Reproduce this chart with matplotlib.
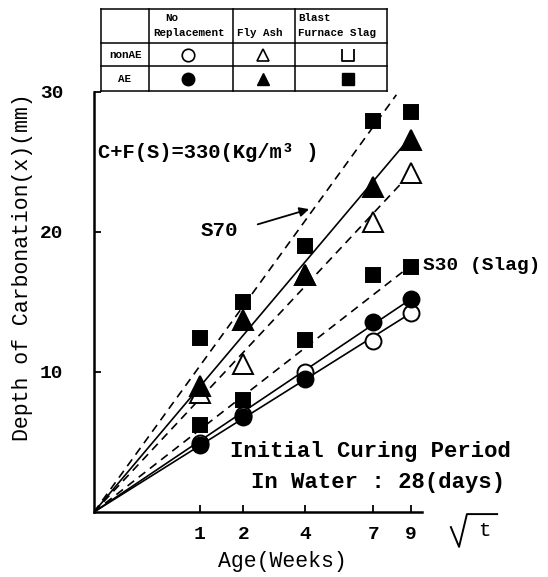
import numpy as np
import matplotlib
matplotlib.use('Agg')
import matplotlib.pyplot as plt
from matplotlib.path import Path

# age in weeks and depth of carbonation (mm)
weeks = [1, 2, 4, 7, 9]
plain_nonae = [4.9, 6.9, 10.0, 12.2, 14.2]
plain_ae = [4.8, 6.8, 9.5, 13.6, 15.2]
flyash_nonae = [8.5, 10.6, 16.9, 20.7, 24.2]
flyash_ae = [9.0, 13.7, 16.9, 23.2, 26.6]
slag30_ae = [6.2, 8.0, 12.3, 16.9, 17.5]
slag70_ae = [12.4, 15.0, 19.0, 27.9, 28.6]

# fitted lines from the origin, upper end of each
fit_end_weeks = [9, 9, 9, 9, 9, 8.2]
fit_end_depth = [14.2, 15.2, 24.2, 26.8, 17.6, 29.8]
fit_styles = ['-', '-', '--', '-', '--', '--']

xticks = [1, 2, 4, 7, 9]
yticks = [10, 20, 30]

col_names = [['No', 'Replacement'], ['Fly Ash'], ['Blast', 'Furnace Slag']]
row_names = ['nonAE', 'AE']

FONT = 'Liberation Mono'
plt.rcParams['font.family'] = [FONT, 'DejaVu Sans']
plt.rcParams['font.weight'] = 'bold'

fig = plt.figure(figsize=(5.48, 5.77), dpi=100)
ax = fig.add_axes([94 / 548, 65 / 577, 328 / 548, 420 / 577])
ax.set_xscale('function', functions=(np.sqrt, np.square))
ax.set_xlim(0, 9.65)
ax.set_ylim(0, 30)

# fitted lines
for xe, ye, ls in zip(fit_end_weeks, fit_end_depth, fit_styles):
    line, = ax.plot([0, xe], [0, ye], color='black', lw=1.2, ls=ls)
    if ls == '--':
        line.set_dashes((5, 3.5))

# markers
def pts(vals, marker, filled, ms, z):
    ax.plot(weeks, vals, ls='none', marker=marker, ms=ms,
            mfc='black' if filled else 'white', mec='black', mew=1.4, zorder=z)

pts(flyash_nonae, '^', False, 14, 3)
pts(flyash_ae, '^', True, 14, 4)
pts(plain_nonae, 'o', False, 11.5, 3)
pts(plain_ae, 'o', True, 11.5, 4)
pts(slag30_ae, 's', True, 10.5, 4)
pts(slag70_ae, 's', True, 10.5, 4)

# axes look
for s in ['top', 'right']:
    ax.spines[s].set_visible(False)
for s in ['left', 'bottom']:
    ax.spines[s].set_linewidth(1.8)
ax.set_xticks(xticks)
ax.set_xticklabels([str(t) for t in xticks])
ax.set_yticks(yticks)
ax.minorticks_off()
ax.tick_params(axis='both', direction='in', length=5, width=1.3, labelsize=14)
ax.tick_params(axis='y', pad=22)
ax.tick_params(axis='x', pad=10)

ax.set_ylabel('Depth of Carbonation(x)(mm)', fontsize=15.5)
ax.yaxis.set_label_coords(-0.219, 0.583)
ax.yaxis.label.set_va('center')
ax.set_xlabel('Age(Weeks)', fontsize=15.5)
ax.xaxis.set_label_coords(0.573, -0.119)
ax.xaxis.label.set_va('center')

# hand drawn radical sign for sqrt(t)
ax.plot([1.088, 1.113, 1.137, 1.229], [-0.036, -0.083, -0.005, -0.005],
        color='black', lw=1.4, transform=ax.transAxes, clip_on=False)
ax.text(1.189, -0.045, 't', transform=ax.transAxes, fontsize=15,
        fontweight='normal', ha='center', va='center', clip_on=False)

# annotations
ax.text(0.012, 0.855, 'C+F(S)=330(Kg/m³ )', transform=ax.transAxes,
        fontsize=14.8, ha='left', va='center')
ax.text(0.381, 0.671, 'S70', transform=ax.transAxes,
        fontsize=15, ha='center', va='center')
ax.annotate('', xy=(0.664, 0.723), xytext=(0.491, 0.683),
            xycoords='axes fraction', textcoords='axes fraction',
            arrowprops=dict(arrowstyle='-|>', color='black', lw=1.3,
                            mutation_scale=14))
ax.text(1.003, 0.588, 'S30 (Slag)', transform=ax.transAxes,
        fontsize=14, ha='left', va='center', clip_on=False)
ax.text(0.843, 0.143, 'Initial Curing Period', transform=ax.transAxes,
        fontsize=16, ha='center', va='center')
ax.text(0.866, 0.070, 'In Water : 28(days)', transform=ax.transAxes,
        fontsize=16, ha='center', va='center')

# legend table, drawn in pixel units
tab = fig.add_axes([101 / 548, 486 / 577, 286 / 548, 82 / 577])
tab.set_xlim(101, 387)
tab.set_ylim(91, 9)
tab.axis('off')
xs = [101, 148.5, 232.7, 295, 387]
ys = [9, 43, 66, 91]
for x in xs:
    tab.plot([x, x], [ys[0], ys[-1]], color='black', lw=1.1, clip_on=False)
for y in ys:
    tab.plot([xs[0], xs[-1]], [y, y], color='black', lw=1.1, clip_on=False)

tfs = 7.8
tab.text(165, 18, col_names[0][0], fontsize=tfs, ha='left', va='center')
tab.text(153, 33, col_names[0][1], fontsize=tfs, ha='left', va='center')
tab.text(237, 33, col_names[1][0], fontsize=tfs, ha='left', va='center')
tab.text(298, 18, col_names[2][0], fontsize=tfs, ha='left', va='center')
tab.text(298, 33, col_names[2][1], fontsize=tfs, ha='left', va='center')
tab.text(125, 55, row_names[0], fontsize=tfs, ha='center', va='center')
tab.text(124, 79, row_names[1], fontsize=tfs, ha='center', va='center')

u_mark = Path([(-1, 1), (-1, -1), (1, -1), (1, 1)])
cx = [188, 263, 348]
tab.plot(cx[0], 55, marker='o', ms=9, mfc='white', mec='black', mew=1.2)
tab.plot(cx[1], 55, marker='^', ms=9, mfc='white', mec='black', mew=1.2)
tab.plot(cx[2], 55, marker=u_mark, ms=8, mfc='none', mec='black', mew=1.3)
tab.plot(cx[0], 79, marker='o', ms=9, color='black')
tab.plot(cx[1], 79, marker='^', ms=9, color='black')
tab.plot(cx[2], 79, marker='s', ms=8, color='black')

fig.savefig('out.png', dpi=100)
